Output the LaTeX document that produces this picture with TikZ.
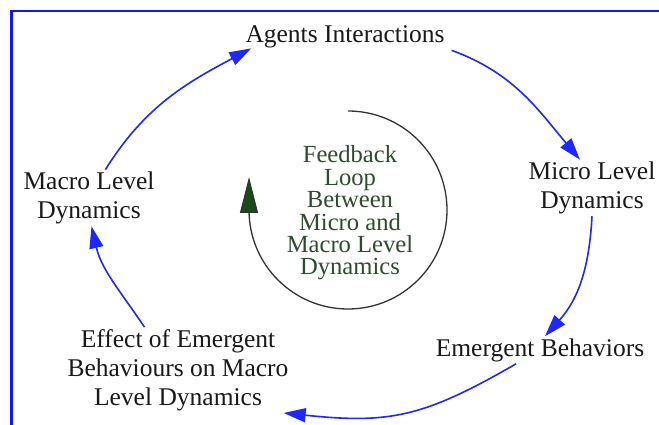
\documentclass[tikz,border=0pt]{standalone}
\usepackage{fontspec}
\setmainfont{Liberation Serif}
\usetikzlibrary{arrows.meta}
\definecolor{flowBlue}{RGB}{30,40,250}
\definecolor{frameBlue}{RGB}{20,20,250}
\definecolor{loopText}{RGB}{45,75,45}
\definecolor{loopTip}{RGB}{25,75,20}
\colorlet{loopLine}{black!80}

\begin{document}
\begin{tikzpicture}[x=1pt,y=1pt,
  label/.style={align=center,text=black!90,inner sep=2pt,
    font=\fontsize{25.5}{29}\selectfont},
  flow/.style={flowBlue,line width=1.6pt,
    -{Triangle[length=22pt,width=14pt]}}]
\useasboundingbox (0,0) rectangle (659,425);
% frame, cut off at the right and bottom
\draw[frameBlue,line width=2.5pt] (11.5,0) -- (11.5,414) -- (659,414);

\node[label] (agents) at (345,388) {Agents Interactions};
\node[label] (micro) at (592,237) {Micro Level\\Dynamics};
\node[label] (emergent) at (540,75) {Emergent Behaviors};
\node[label] (effect) at (178,55) {Effect of Emergent\\Behaviours on Macro\\Level Dynamics};
\node[label] (macro) at (89,227) {Macro Level\\Dynamics};

\draw[flow] (macro.60) to[out=58,in=208] ([xshift=8pt,yshift=2pt]agents.south west);
\draw[flow] ([xshift=5pt]agents.south east) to[out=-20,in=130] (micro.113);
\draw[flow] (micro.south) to[out=-93,in=48] (emergent.70);
\draw[flow] (emergent.-150) to[out=210,in=-6,looseness=1.15] ([xshift=-7pt]effect.south east);
\draw[flow] (effect.128) to[out=124,in=-77] (macro.-85);

% inner loop
\node[align=center,text=loopText,inner sep=0pt,
  font=\fontsize{24.6}{22.4}\selectfont] (loop) at (350,212)
  {Feedback\\Loop\\Between\\Micro and\\Macro Level\\Dynamics};
\coordinate (loopEnd) at (249,215);
\draw[loopLine,line width=1.3pt] (348,314) arc[start angle=90,end angle=-180,radius=99];
\draw[loopLine,line width=1.3pt,-{Triangle[length=36pt,width=18pt,fill=loopTip]}]
  (loopEnd) -- ++(0,33);
%\draw[loopTip] (loop.north) circle (2pt);
\end{tikzpicture}
\end{document}
